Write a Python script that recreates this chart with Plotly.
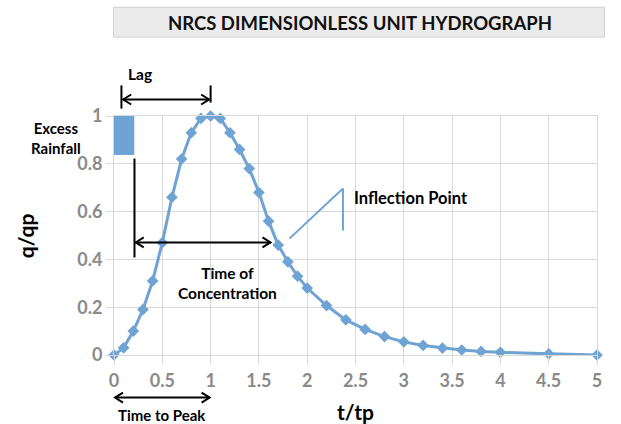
import plotly.graph_objects as go

# NRCS dimensionless unit hydrograph ordinates
t_tp = [0.0, 0.1, 0.2, 0.3, 0.4, 0.5, 0.6, 0.7, 0.8, 0.9, 1.0, 1.1, 1.2, 1.3, 1.4,
        1.5, 1.6, 1.7, 1.8, 1.9, 2.0, 2.2, 2.4, 2.6, 2.8, 3.0, 3.2, 3.4, 3.6, 3.8,
        4.0, 4.5, 5.0]
q_qp = [0.0, 0.03, 0.10, 0.19, 0.31, 0.47, 0.66, 0.82, 0.93, 0.99, 1.0, 0.99, 0.93,
        0.86, 0.78, 0.68, 0.56, 0.46, 0.39, 0.33, 0.28, 0.207, 0.147, 0.107, 0.077,
        0.055, 0.04, 0.029, 0.021, 0.015, 0.011, 0.005, 0.0]

x_ticks = [0, 0.5, 1, 1.5, 2, 2.5, 3, 3.5, 4, 4.5, 5]
x_tick_text = ["0", "0.5", "1", "1.5", "2", "2.5", "3", "3.5", "4", "4.5", "5"]
y_ticks = [0, 0.2, 0.4, 0.6, 0.8, 1]
y_tick_text = ["0", "0.2", "0.4", "0.6", "0.8", "1"]

X_RANGE = [0, 5]
Y_RANGE = [0, 1]

BLUE = "#6fa3d3"
GRID = "#d9d9d9"
TICK_GRAY = "#8a8a8a"
FONT = "Lato"

# plot-area geometry in pixels (used for the layout margins and the title box)
W, H = 621, 424
L, R, T, B = 113.5, 23.5, 116, 68.5
PW, PH = W - L - R, H - T - B


def xp(x):
    """x data value -> paper fraction"""
    return (x - X_RANGE[0]) / (X_RANGE[1] - X_RANGE[0])


def yp(y):
    """y data value -> paper fraction"""
    return (y - Y_RANGE[0]) / (Y_RANGE[1] - Y_RANGE[0])


def px_x(p):
    return (p - L) / PW


def px_y(p):
    return (H - B - p) / PH


fig = go.Figure()
fig.add_trace(go.Scatter(
    x=t_tp, y=q_qp, mode="lines+markers",
    line=dict(color=BLUE, width=3),
    marker=dict(symbol="diamond", size=9, color=BLUE),
    cliponaxis=False, showlegend=False,
))

shapes = []
annotations = []


def hline_arrow(x0, x1, y, color="black", width=2, head=8, spread=5):
    """double-headed horizontal arrow, x and y in data units"""
    shapes.append(dict(type="line", xref="paper", yref="paper",
                       x0=xp(x0), x1=xp(x1), y0=yp(y), y1=yp(y),
                       line=dict(color=color, width=width)))
    for xa, sgn in ((x1, -1), (x0, 1)):
        shapes.append(dict(type="path", xref="paper", yref="paper",
                           xsizemode="pixel", ysizemode="pixel",
                           xanchor=xp(xa), yanchor=yp(y),
                           path=f"M {sgn*head} {spread} L 0 0 L {sgn*head} {-spread}",
                           line=dict(color=color, width=width)))


def seg(x0, y0, x1, y1, color="black", width=2):
    shapes.append(dict(type="line", xref="paper", yref="paper",
                       x0=xp(x0), x1=xp(x1), y0=yp(y0), y1=yp(y1),
                       line=dict(color=color, width=width)))


def label(x, y, text, size=15.5, xanchor="center", align="center", angle=0):
    annotations.append(dict(xref="paper", yref="paper", x=x, y=y, text=text,
                            showarrow=False, xanchor=xanchor, yanchor="middle",
                            align=align, textangle=angle,
                            font=dict(family=FONT, size=size, color="black",
                                      weight="bold")))


# Lag
seg(0.077, 1.031, 0.077, 1.128)
seg(1.0, 1.056, 1.0, 1.128)
hline_arrow(0.095, 0.985, 1.069)
label(xp(0.27), yp(1.174), "Lag")

# Excess rainfall block
shapes.append(dict(type="rect", xref="paper", yref="paper",
                   x0=xp(0.0), x1=xp(0.21), y0=yp(0.837), y1=yp(1.0),
                   fillcolor=BLUE, line=dict(width=0)))
label(px_x(55), yp(0.91), "Excess<br>Rainfall", size=15)

# Time of concentration
seg(0.212, 0.822, 0.212, 0.408)
hline_arrow(0.225, 1.62, 0.471)
label(xp(1.17), yp(0.301), "Time of<br>Concentration")

# Inflection point callout
seg(1.816, 0.487, 2.37, 0.697, color=BLUE, width=2)
seg(2.37, 0.697, 2.37, 0.521, color=BLUE, width=2)
label(xp(2.46), yp(0.655), "Inflection Point", size=16.5, xanchor="left")

# Time to peak
hline_arrow(0.01, 0.99, -0.178)
label(xp(0.5), yp(-0.249), "Time to Peak", size=15)

# Axis titles
label(0.5, px_y(412), "t/tp", size=21)
label(px_x(25), 0.5, "q/qp", size=21, angle=-90)

# Title box
shapes.append(dict(type="rect", xref="paper", yref="paper",
                   x0=px_x(113), x1=px_x(605), y0=px_y(37), y1=px_y(7),
                   fillcolor="#ebebeb", line=dict(color="#d3d3d3", width=1)))
annotations.append(dict(xref="paper", yref="paper",
                        x=px_x(360), y=px_y(23),
                        text="NRCS DIMENSIONLESS UNIT HYDROGRAPH",
                        showarrow=False, xanchor="center", yanchor="middle",
                        font=dict(family=FONT, size=18.5, color="#111111",
                                  weight="bold")))

fig.update_layout(
    width=W, height=H,
    margin=dict(l=L, r=R, t=T, b=B, autoexpand=False),
    paper_bgcolor="white", plot_bgcolor="white",
    shapes=shapes, annotations=annotations,
    font=dict(family=FONT),
    xaxis=dict(
        range=X_RANGE, tickvals=x_ticks, ticktext=x_tick_text,
        showgrid=True, gridcolor=GRID, gridwidth=1, zeroline=False,
        showline=True, linecolor=GRID, linewidth=1, mirror=True,
        ticks="outside", ticklen=9, tickcolor=GRID, automargin=False,
        tickfont=dict(family=FONT, size=18, color=TICK_GRAY, weight="bold"),
    ),
    yaxis=dict(
        range=Y_RANGE, tickvals=y_ticks, ticktext=y_tick_text,
        showgrid=True, gridcolor=GRID, gridwidth=1, zeroline=False,
        showline=True, linecolor=GRID, linewidth=1, mirror=True,
        ticks="outside", ticklen=7, tickcolor=GRID, automargin=False,
        tickfont=dict(family=FONT, size=18, color=TICK_GRAY, weight="bold"),
    ),
)

fig.write_html("out.html")
